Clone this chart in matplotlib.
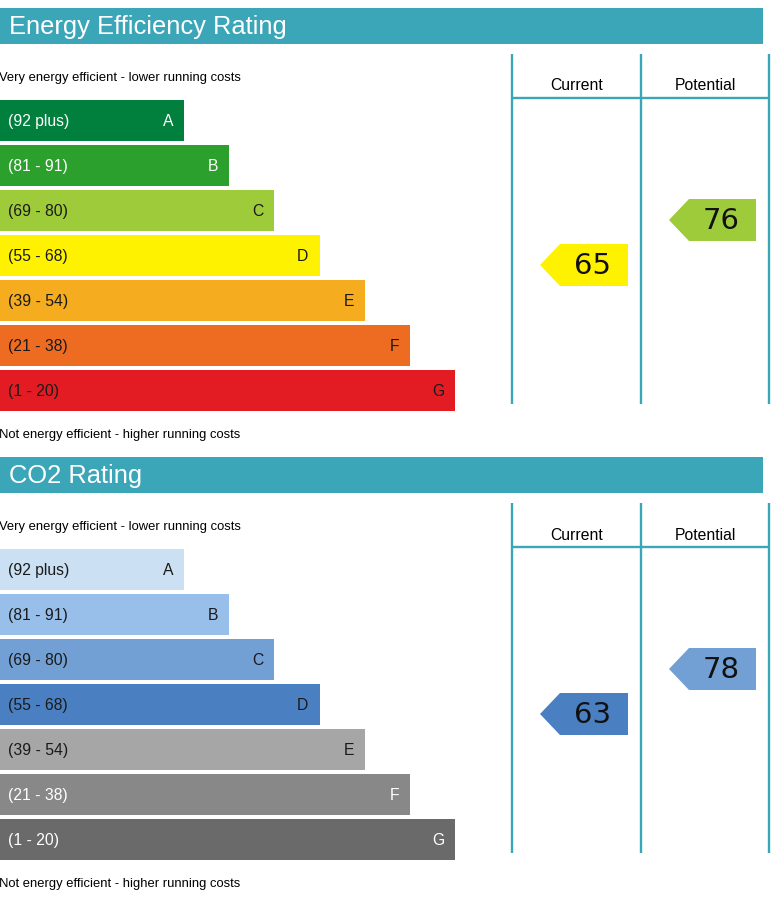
import matplotlib
matplotlib.use('Agg')
import matplotlib.pyplot as plt
from matplotlib.patches import Rectangle, Polygon

# ================= data =================
BANDS = ['A', 'B', 'C', 'D', 'E', 'F', 'G']
RANGES = ['(92 plus)', '(81 - 91)', '(69 - 80)', '(55 - 68)', '(39 - 54)', '(21 - 38)', '(1 - 20)']
BAND_MIN = [92, 81, 69, 55, 39, 21, 1]

EE_COLORS = ['#007f3d', '#2ca02c', '#9ecb3a', '#fff200', '#f5ac1e', '#ee6b22', '#e31c23']
EE_TEXT = ['white', 'white', '#1a1a1a', '#1a1a1a', '#1a1a1a', '#1a1a1a', '#1a1a1a']
CO2_COLORS = ['#cce0f3', '#98bfea', '#72a0d4', '#4a80c2', '#a6a6a6', '#888888', '#6a6a6a']
CO2_TEXT = ['#1a1a1a', '#1a1a1a', '#1a1a1a', '#1a1a1a', '#1a1a1a', 'white', 'white']

EE_CURRENT, EE_POTENTIAL = 65, 76
CO2_CURRENT, CO2_POTENTIAL = 63, 78
# =========================================

TEAL = '#3ba6b8'
FONT = 'Liberation Sans'
W, H = 773, 919


def band_of(value):
    for i, lo in enumerate(BAND_MIN):
        if value >= lo:
            return i
    return len(BAND_MIN) - 1


def draw_arrow(ax, col_left, col_right, top, value, colors):
    tip = col_left + 28
    right = col_right - 13
    h = 42
    pts = [(tip, top + h / 2), (tip + 20, top), (right, top), (right, top + h), (tip + 20, top + h)]
    ax.add_patch(Polygon(pts, closed=True, facecolor=colors[band_of(value)], edgecolor='none'))
    ax.text((tip + 20 + right) / 2 - 1, top + h / 2 + 1, str(value), ha='center', va='center',
            fontsize=21, family='DejaVu Sans', color='#111111')


def draw_section(ax, y0, title, colors, text_colors, current, potential):
    # header bar
    ax.add_patch(Rectangle((0, y0), 763, 36, facecolor=TEAL, edgecolor='none'))
    ax.text(9, y0 + 19, title, ha='left', va='center', color='white', fontsize=18.4, family=FONT)

    ax.text(-1, y0 + 70, 'Very energy efficient - lower running costs', ha='left', va='center',
            fontsize=9.4, family=FONT, color='black')
    ax.text(-1, y0 + 427, 'Not energy efficient - higher running costs', ha='left', va='center',
            fontsize=9.4, family=FONT, color='black')

    # rating bands
    for i, band in enumerate(BANDS):
        top = y0 + 92 + i * 45
        width = 184 + i * 45.2
        ax.add_patch(Rectangle((0, top), width, 41, facecolor=colors[i], edgecolor='none'))
        ax.text(8, top + 21.5, RANGES[i], ha='left', va='center', fontsize=11.3, family=FONT,
                color=text_colors[i])
        ax.text(width - 11, top + 21.5, band, ha='right', va='center', fontsize=11.3, family=FONT,
                color=text_colors[i])

    # current / potential table
    cols = [512, 641, 769]
    for x in cols:
        ax.plot([x, x], [y0 + 46, y0 + 396], color=TEAL, lw=1.7, solid_capstyle='butt')
    ax.plot([cols[0], cols[2]], [y0 + 90, y0 + 90], color=TEAL, lw=1.7, solid_capstyle='butt')
    ax.text((cols[0] + cols[1]) / 2, y0 + 78, 'Current', ha='center', va='center', fontsize=11.3, family=FONT)
    ax.text((cols[1] + cols[2]) / 2, y0 + 78, 'Potential', ha='center', va='center', fontsize=11.3, family=FONT)

    for val, cl, cr in [(current, cols[0], cols[1]), (potential, cols[1], cols[2])]:
        top = y0 + 92 + band_of(val) * 45 + 9
        draw_arrow(ax, cl, cr, top, val, colors)


def main():
    fig = plt.figure(figsize=(W / 100, H / 100), dpi=100)
    ax = fig.add_axes([0, 0, 1, 1])
    ax.set_xlim(0, W)
    ax.set_ylim(H, 0)
    ax.axis('off')

    draw_section(ax, 8, 'Energy Efficiency Rating', EE_COLORS, EE_TEXT, EE_CURRENT, EE_POTENTIAL)
    draw_section(ax, 457, 'CO2 Rating', CO2_COLORS, CO2_TEXT, CO2_CURRENT, CO2_POTENTIAL)

    fig.savefig('out.png', dpi=100)
    plt.close(fig)


if __name__ == '__main__':
    main()
